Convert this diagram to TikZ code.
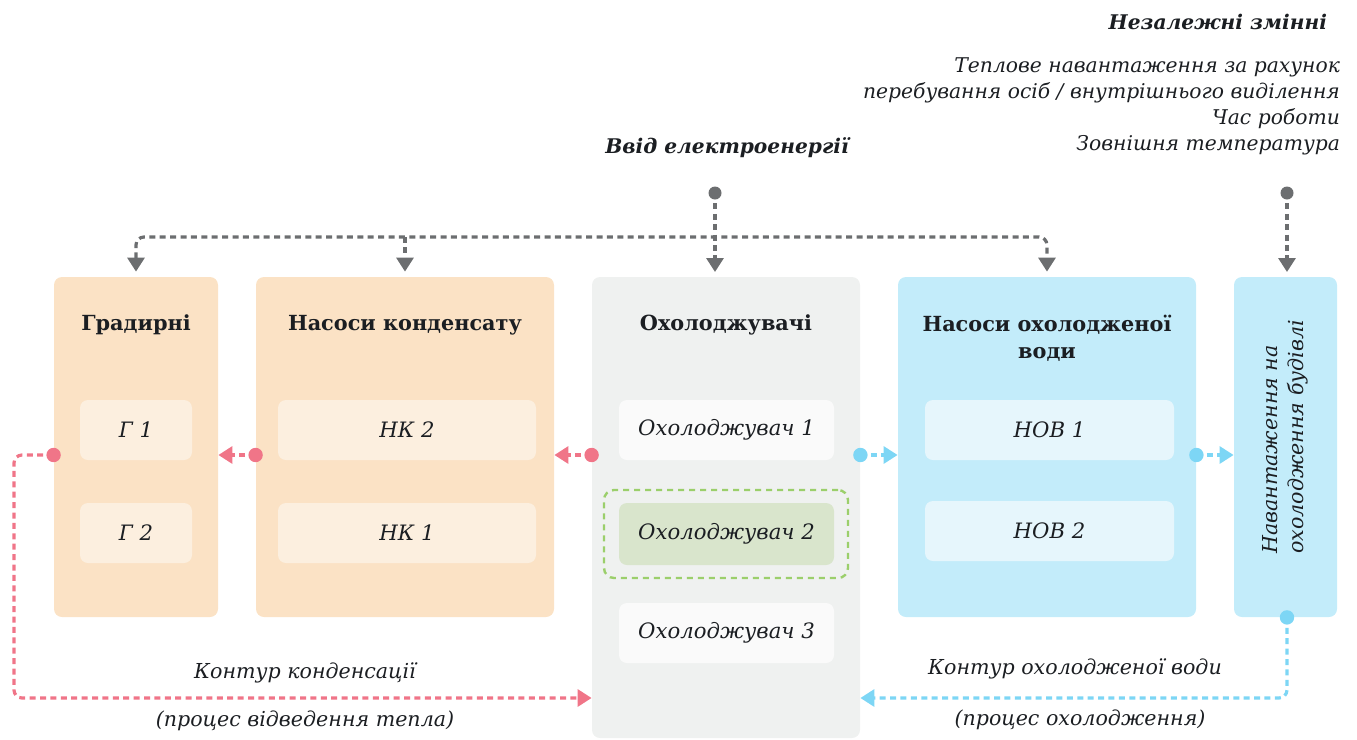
\documentclass[tikz,border=0pt]{standalone}
\usepackage{fontspec}
\setmainfont{DejaVu Serif}
\usetikzlibrary{arrows.meta}

\definecolor{peach}{HTML}{FBE2C5}
\definecolor{peachlt}{HTML}{FCEFDF}
\definecolor{greybg}{HTML}{EFF1F0}
\definecolor{greylt}{HTML}{FAFAFA}
\definecolor{skyb}{HTML}{C3ECFA}
\definecolor{skylt}{HTML}{E6F6FC}
\definecolor{greenlt}{HTML}{D9E5CC}
\definecolor{greendash}{HTML}{9BCF6B}
\definecolor{pinkc}{HTML}{F07588}
\definecolor{bluec}{HTML}{7DD6F5}
\definecolor{greyc}{HTML}{6C6E70}
\definecolor{txt}{HTML}{1B1E22}

\tikzset{
  flowtip/.tip={Triangle[length=7pt,width=8.5pt]},
  panel/.style={rounded corners=4pt, inner sep=0pt, minimum height=170pt},
  unit/.style={rounded corners=4pt, inner sep=0pt, minimum height=30pt, text=txt,
    font=\fontsize{10.6}{13}\selectfont\itshape},
  title/.style={text=txt, align=center, font=\fontsize{10.4}{13.5}\selectfont\bfseries},
  note/.style={text=txt, font=\fontsize{10.3}{13}\selectfont\itshape},
  boldnote/.style={text=txt, font=\fontsize{10.1}{13}\selectfont\bfseries\itshape},
  flow/.style={line width=1.6pt, dash pattern=on 3pt off 2.2pt, rounded corners=4pt,
    -flowtip},
  pinkflow/.style={flow, pinkc},
  blueflow/.style={flow, bluec},
  greyflow/.style={flow, greyc},
}

\begin{document}
\begin{tikzpicture}[x=0.5pt, y=-0.5pt]
\useasboundingbox (0,0) rectangle (1357,740);

% panels
\node[panel, fill=peach, minimum width=82pt] (grad) at (136,447) {};
\node[panel, fill=peach, minimum width=149pt] (nk) at (405,447) {};
\node[panel, fill=greybg, minimum width=134pt, minimum height=230.5pt] (ch) at (726,507.5) {};
\node[panel, fill=skyb, minimum width=149pt] (nov) at (1047,447) {};
\node[panel, fill=skyb, minimum width=51.5pt] (load) at (1285.5,447) {};

% titles
\node[title] (gradT) at (136,325) {Градирні};
\node[title] (nkT) at (405,325) {Насоси конденсату};
\node[title] (chT) at (726,325) {Охолоджувачі};
\node[title] (novT) at (1047,338.5) {Насоси охолодженої\\води};
\node[note, rotate=90, align=left] (loadT) at (1285,437) {Навантаження на\\охолодження будівлі};

% units
\node[unit, fill=peachlt, minimum width=56pt] (g1) at (136,430) {Г 1};
\node[unit, fill=peachlt, minimum width=56pt] (g2) at (136,533) {Г 2};
\node[unit, fill=peachlt, minimum width=129pt] (nk2) at (407,430) {НК 2};
\node[unit, fill=peachlt, minimum width=129pt] (nk1) at (407,533) {НК 1};
\node[unit, fill=greylt, minimum width=107.5pt] (ch1) at (726.5,430) {Охолоджувач 1};
\node[unit, fill=greenlt, minimum width=107.5pt, minimum height=31pt] (ch2) at (726.5,534) {Охолоджувач 2};
\node[unit, fill=greylt, minimum width=107.5pt] (ch3) at (726.5,633) {Охолоджувач 3};
\node[unit, fill=skylt, minimum width=124.5pt] (nov1) at (1049.5,430) {НОВ 1};
\node[unit, fill=skylt, minimum width=124.5pt] (nov2) at (1049.5,531) {НОВ 2};
\node[draw=greendash, line width=1.2pt, dash pattern=on 3pt off 2.5pt, rounded corners=5pt,
  inner sep=0pt, minimum width=122pt, minimum height=44pt] (sel) at (726,534) {};

% texts
\node[boldnote] (elecT) at (727,148) {Ввід електроенергії};
\node[boldnote, anchor=east] (varsT) at (1334,22) {Незалежні змінні};
\node[note, anchor=north east, align=right, font=\fontsize{10.15}{13}\selectfont\itshape] (vars) at (1347,51) {Теплове навантаження за рахунок\\перебування осіб / внутрішнього виділення\\Час роботи\\Зовнішня температура};
\node[note] (condT) at (305,673) {Контур конденсації};
\node[note] (condP) at (305,721) {(процес відведення тепла)};
\node[note] (coolT) at (1075,669) {Контур охолодженої води};
\node[note] (coolP) at (1080,720) {(процес охолодження)};

% helper points
\coordinate (elec) at (715,193);
\coordinate (vin) at (1287,193);
\coordinate (bus) at (0,237);
\coordinate (hx) at (0,455);
\coordinate (ret) at (0,698);
\coordinate (lft) at (14,0);
\coordinate (top) at (0,277);

% electricity feed
\draw[greyflow, flowtip-flowtip, shorten <=2.5pt, shorten >=2.5pt]
  (grad.north) -- (grad.north |- bus) -- (nov.north |- bus) -- (nov.north);
\draw[greyflow, shorten >=2.5pt] (nk.north |- bus) -- (nk.north);
\draw[greyflow, shorten >=2.5pt] (elec) -- (elec |- top);
\fill[greyc] (elec) circle (3.25pt);
\draw[greyflow, shorten >=2.5pt] (vin) -- (vin |- top);
\fill[greyc] (vin) circle (3.25pt);

% condenser loop
\draw[pinkflow] (ch.west |- hx) -- (nk.east |- hx);
\fill[pinkc] (ch.west |- hx) circle (3.6pt);
\draw[pinkflow] (nk.west |- hx) -- (grad.east |- hx);
\fill[pinkc] (nk.west |- hx) circle (3.6pt);
\draw[pinkflow] (grad.west |- hx) -- (lft |- hx) -- (lft |- ret) -- (ch.west |- ret);
\fill[pinkc] (grad.west |- hx) circle (3.6pt);

% chilled water loop
\draw[blueflow] (ch.east |- hx) -- (nov.west |- hx);
\fill[bluec] (ch.east |- hx) circle (3.6pt);
\draw[blueflow] (nov.east |- hx) -- (load.west |- hx);
\fill[bluec] (nov.east |- hx) circle (3.6pt);
\draw[blueflow] (load.south -| vin) -- (vin |- ret) -- (ch.east |- ret);
\fill[bluec] (load.south -| vin) circle (3.6pt);
\end{tikzpicture}
\end{document}
